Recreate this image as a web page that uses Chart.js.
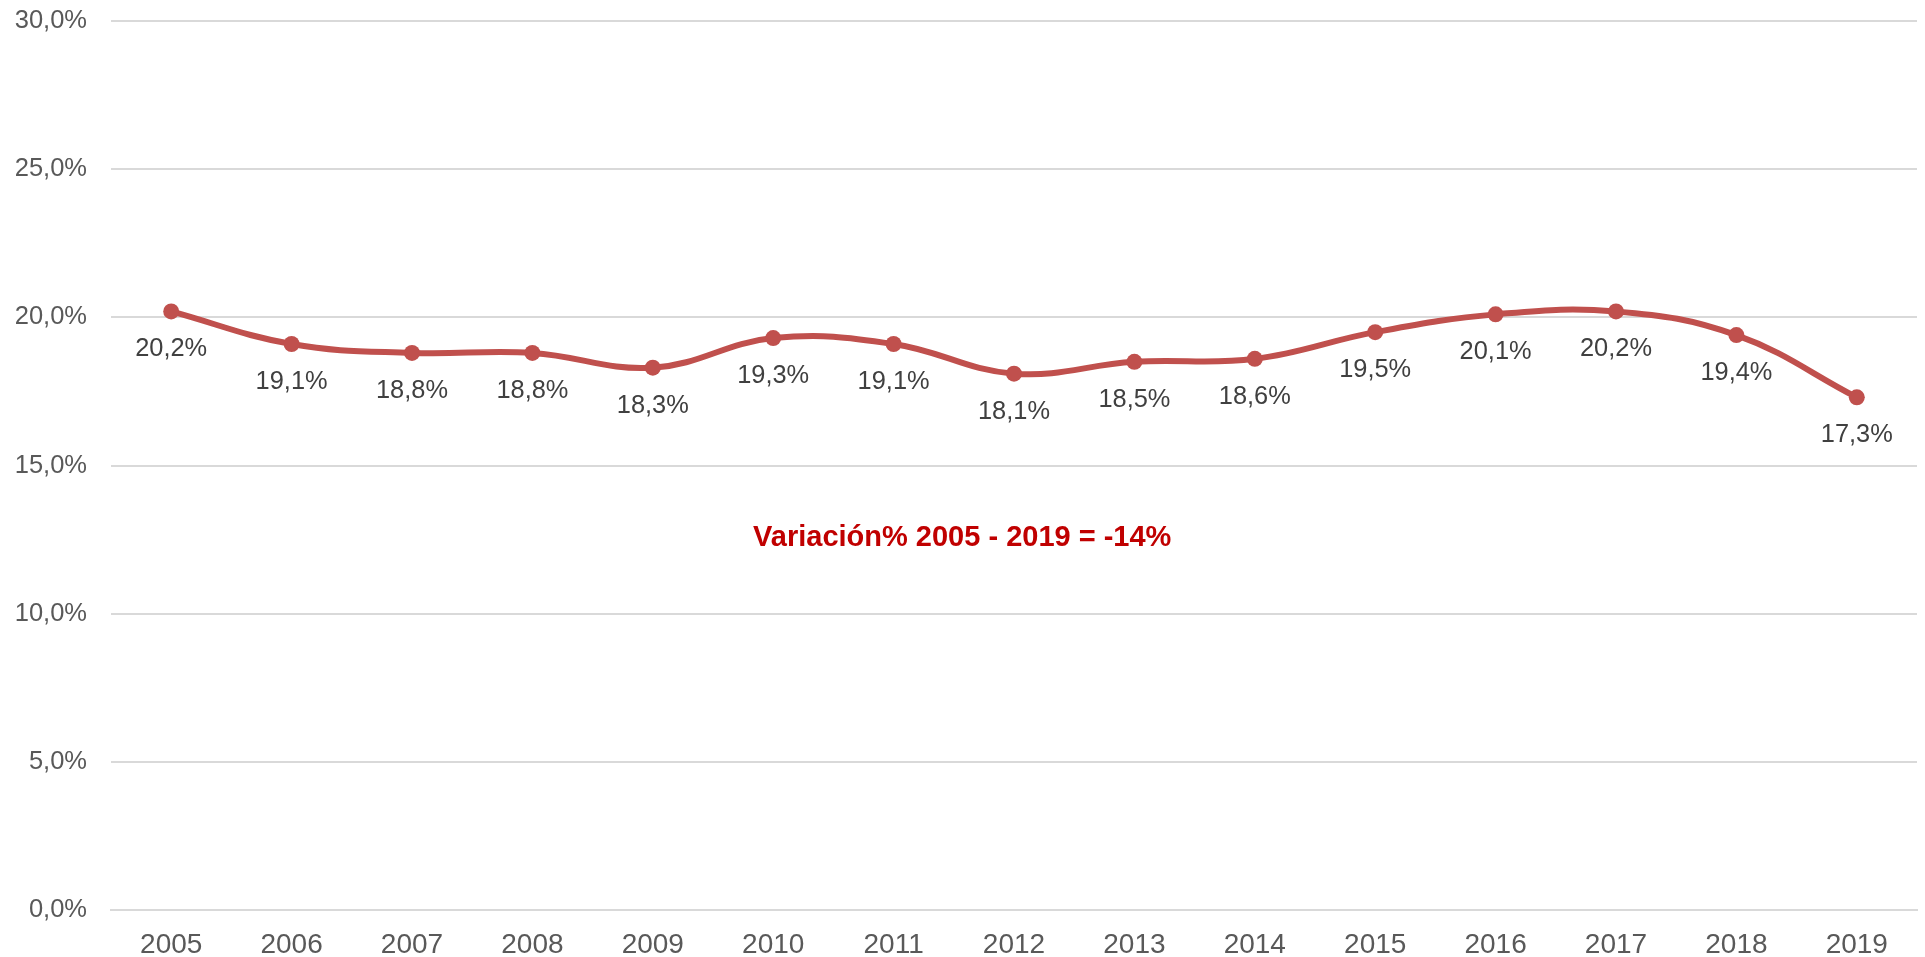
<!DOCTYPE html>
<html><head><meta charset="utf-8">
<script src="https://cdn.jsdelivr.net/npm/chart.js@4"></script>
<style>html,body{margin:0;padding:0;background:#fff;}#wrap{width:1925px;height:957px;position:relative;}</style>
</head><body><div id="wrap"><canvas id="c" width="1925" height="957"></canvas></div>
<script>
const years = ['2005','2006','2007','2008','2009','2010','2011','2012','2013','2014','2015','2016','2017','2018','2019'];
const shares = [20.2,19.1,18.8,18.8,18.3,19.3,19.1,18.1,18.5,18.6,19.5,20.1,20.2,19.4,17.3];
const yTicks = [0,5,10,15,20,25,30];
const noteText = 'Variación% 2005 - 2019 = -14%';
const notePos = {x: 6.57, y: 12.55};

const fmt = v => v.toFixed(1).replace('.', ',') + '%';

const labelPlugin = {
  id: 'labels',
  afterDatasetsDraw(chart) {
    const ctx = chart.ctx;
    const meta = chart.getDatasetMeta(0);
    ctx.save();
    ctx.font = '25.4px "Liberation Sans", Arial, sans-serif';
    ctx.fillStyle = '#404040';
    ctx.textAlign = 'center';
    ctx.textBaseline = 'middle';
    meta.data.forEach((pt, i) => {
      ctx.fillText(fmt(shares[i]), pt.x, pt.y + 38);
    });
    const xs = chart.scales.x, ys = chart.scales.y;
    ctx.font = 'bold 29px "Liberation Sans", Arial, sans-serif';
    ctx.fillStyle = '#C00000';
    ctx.fillText(noteText, xs.getPixelForValue(notePos.x), ys.getPixelForValue(notePos.y));
    ctx.restore();
  }
};

new Chart(document.getElementById('c'), {
  type: 'line',
  data: {
    labels: years,
    datasets: [{
      data: shares,
      borderColor: '#C0504D',
      backgroundColor: '#C0504D',
      borderWidth: 6,
      pointRadius: 8,
      pointHoverRadius: 8,
      pointBorderWidth: 0,
      tension: 0.4,
      fill: false
    }]
  },
  options: {
    responsive: false,
    animation: false,
    devicePixelRatio: 1,
    layout: {padding: {top: 21, right: 8, left: 0, bottom: 0}},
    plugins: {legend: {display: false}, tooltip: {enabled: false}},
    scales: {
      x: {
        offset: true,
        grid: {display: false, drawTicks: false},
        border: {display: true, color: '#d9d9d9', width: 2},
        ticks: {color: '#595959', font: {family: '"Liberation Sans", Arial, sans-serif', size: 28}, padding: 18, maxRotation: 0, autoSkip: false},
        afterFit(s) { s.height = 47; s.paddingLeft = 0; s.paddingRight = 0; }
      },
      y: {
        min: 0, max: 30,
        afterBuildTicks(s) { s.ticks = yTicks.map(v => ({value: v})); },
        grid: {color: '#d9d9d9', lineWidth: 2, drawTicks: false},
        border: {display: false},
        ticks: {color: '#595959', font: {family: '"Liberation Sans", Arial, sans-serif', size: 25.5}, padding: 24, callback: v => fmt(v)},
        afterFit(s) { s.width = 111; s.paddingTop = 0; s.paddingBottom = 0; }
      }
    }
  },
  plugins: [labelPlugin]
});
</script></body></html>
